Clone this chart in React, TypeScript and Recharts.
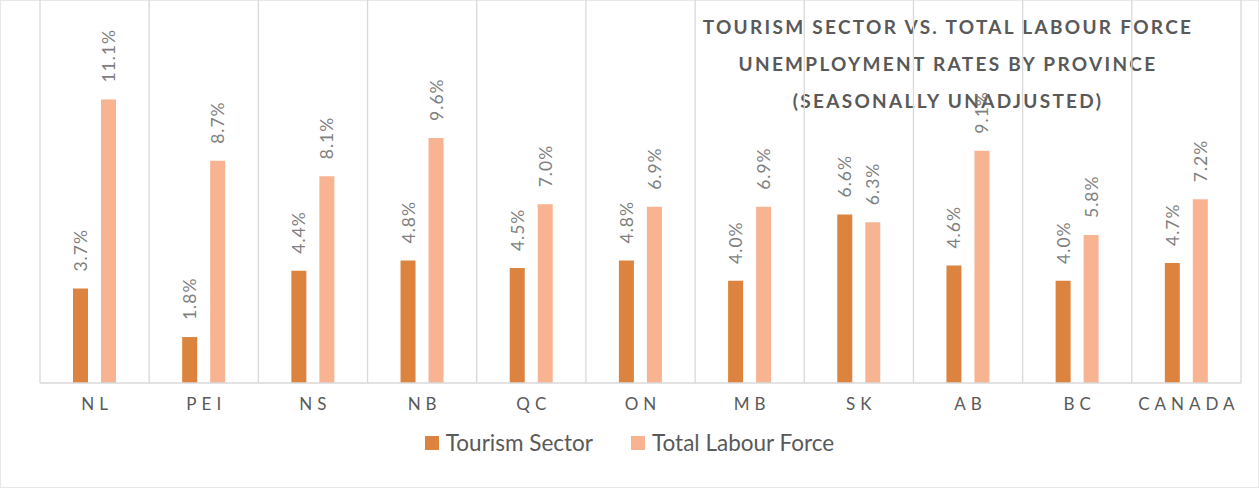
import { BarChart, Bar, XAxis, YAxis, CartesianGrid, Legend, LabelList } from "recharts";

const provinces = ["NL", "PEI", "NS", "NB", "QC", "ON", "MB", "SK", "AB", "BC", "CANADA"];
const tourismSector = [3.7, 1.8, 4.4, 4.8, 4.5, 4.8, 4.0, 6.6, 4.6, 4.0, 4.7];
const totalLabourForce = [11.1, 8.7, 8.1, 9.6, 7.0, 6.9, 6.9, 6.3, 9.1, 5.8, 7.2];
const titleLines = [
  "TOURISM SECTOR VS. TOTAL LABOUR FORCE",
  "UNEMPLOYMENT RATES BY PROVINCE",
  "(SEASONALLY UNADJUSTED)",
];

const data = provinces.map((p, i) => ({
  name: p,
  tourism: tourismSector[i],
  total: totalLabourForce[i],
}));

const FONT = "Lato, 'Open Sans', sans-serif";
const TOURISM = "#DC843F";
const TOTAL = "#F8B490";
const GRID = "#D9D9D9";

const ValueLabel = (props: any) => {
  const { x, y, width, value } = props;
  const cx = x + width / 2;
  const ly = y - 17;
  return (
    <text
      x={cx}
      y={ly}
      transform={`rotate(-90, ${cx}, ${ly})`}
      textAnchor="start"
      dominantBaseline="central"
      fill="#7F7F7F"
      fontSize={17.5}
      fontFamily={FONT}
      letterSpacing={1}
    >
      {value.toFixed(1) + "%"}
    </text>
  );
};

const CategoryTick = (props: any) => {
  const { x, y, payload } = props;
  return (
    <text
      x={x + 2.5}
      y={y + 19}
      textAnchor="middle"
      fill="#595959"
      fontSize={17}
      fontFamily={FONT}
      letterSpacing={5}
    >
      {payload.value}
    </text>
  );
};

const LegendContent = () => {
  const items = [
    { label: "Tourism Sector", color: TOURISM },
    { label: "Total Labour Force", color: TOTAL },
  ];
  return (
    <div style={{ display: "flex", justifyContent: "center", gap: 38, fontFamily: FONT }}>
      {items.map((it) => (
        <div key={it.label} style={{ display: "flex", alignItems: "center", gap: 7 }}>
          <span style={{ width: 14, height: 14, background: it.color, display: "inline-block" }} />
          <span style={{ fontSize: 22.5, color: "#595959" }}>{it.label}</span>
        </div>
      ))}
    </div>
  );
};

export default function App() {
  return (
    <div
      style={{
        position: "absolute",
        left: 0,
        top: 0,
        width: 1259,
        height: 488,
        background: "#fff",
        boxSizing: "border-box",
        border: "1px solid #E8E8E8",
      }}
    >
      <div
        style={{
          position: "absolute",
          left: 649,
          width: 596,
          top: 7,
          textAlign: "center",
          fontFamily: FONT,
          fontWeight: 700,
          fontSize: 19,
          letterSpacing: 2.3,
          lineHeight: "37px",
          color: "#595959",
        }}
      >
        {titleLines.map((t) => (
          <div key={t}>{t}</div>
        ))}
      </div>
      <div style={{ position: "absolute", left: -1, top: -1 }}>
        <BarChart
          width={1259}
          height={488}
          data={data}
          margin={{ top: 0, right: 18, left: 40, bottom: 0 }}
          barSize={15}
          barGap={13}
        >
          <CartesianGrid
            horizontal={false}
            stroke={GRID}
            strokeWidth={1.3}
            verticalCoordinatesGenerator={({ offset }: any) =>
              provinces.map((_, i) => offset.left + (i * offset.width) / provinces.length).concat(offset.left + offset.width)
            }
          />
          <XAxis
            dataKey="name"
            height={105}
            tickLine={false}
            axisLine={{ stroke: GRID, strokeWidth: 1.3 }}
            tick={<CategoryTick />}
            interval={0}
          />
          <YAxis hide domain={[0, 15]} />
          <Legend
            verticalAlign="middle"
            align="center"
            wrapperStyle={{ top: 429, left: 0, width: 1259 }}
            content={<LegendContent />}
          />
          <Bar dataKey="tourism" name="Tourism Sector" fill={TOURISM} isAnimationActive={false}>
            <LabelList dataKey="tourism" content={<ValueLabel />} />
          </Bar>
          <Bar dataKey="total" name="Total Labour Force" fill={TOTAL} isAnimationActive={false}>
            <LabelList dataKey="total" content={<ValueLabel />} />
          </Bar>
        </BarChart>
      </div>
    </div>
  );
}
